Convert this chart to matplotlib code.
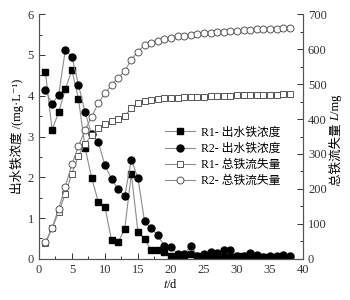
import numpy as np
import matplotlib
matplotlib.use('Agg')
import matplotlib.pyplot as plt
from matplotlib.ticker import MultipleLocator

fonts = ['Liberation Serif', 'Noto Sans CJK SC', 'DejaVu Sans']
plt.rcParams['font.family'] = fonts
plt.rcParams['mathtext.fontset'] = 'stix'

days = np.arange(1, 39)
# 出水铁浓度 mg/L
r1_conc = [4.57, 3.17, 3.59, 4.16, 4.63, 3.92, 2.72, 1.98, 1.40, 1.28,
           0.46, 0.41, 0.73, 2.09, 0.67, 0.48, 0.21, 0.21, 0.16, 0.07,
           0.07, 0.10, 0.11, 0.07, 0.05, 0.04, 0.09, 0.04, 0.04, 0.07,
           0.06, 0.09, 0.06, 0.04, 0.04, 0.05, 0.06, 0.02]
r2_conc = [4.13, 3.80, 4.02, 5.11, 4.95, 4.27, 3.59, 3.05, 2.87, 2.29,
           1.96, 1.71, 1.54, 2.43, 1.98, 0.92, 0.75, 0.58, 0.31, 0.29,
           0.13, 0.11, 0.31, 0.08, 0.12, 0.18, 0.14, 0.23, 0.23, 0.07,
           0.08, 0.14, 0.10, 0.05, 0.06, 0.07, 0.09, 0.06]
# 总铁流失量 mg
r1_loss = [45, 87, 134, 186, 244, 295, 329, 354, 374, 385,
           393, 400, 408, 432, 446, 451, 455, 457, 459, 460,
           461, 462, 463, 464, 464, 465, 466, 467, 467, 468,
           468, 469, 469, 470, 470, 470, 471, 471]
r2_loss = [47, 89, 143, 207, 270, 323, 368, 407, 445, 473,
           497, 518, 537, 570, 593, 611, 617, 623, 628, 633,
           636, 638, 641, 643, 645, 647, 648, 650, 652, 653,
           654, 655, 656, 657, 657, 658, 659, 659]

fig = plt.figure(figsize=(3.5, 3.0), dpi=100)
ax = fig.add_axes([0.111, 0.137, 0.755, 0.816])
ax2 = ax.twinx()

lc = '#8c8c8c'
l1, = ax.plot(days, r1_conc, '-s', color=lc, lw=0.8, ms=4.5,
              mfc='black', mec='black', label='R1- 出水铁浓度')
l2, = ax.plot(days, r2_conc, '-o', color=lc, lw=0.8, ms=5,
              mfc='black', mec='black', label='R2- 出水铁浓度')
l3, = ax2.plot(days, r1_loss, '-s', color=lc, lw=0.8, ms=4.5,
               mfc='white', mec='#555555', mew=0.7, label='R1- 总铁流失量')
l4, = ax2.plot(days, r2_loss, '-o', color=lc, lw=0.8, ms=5,
               mfc='white', mec='#555555', mew=0.7, label='R2- 总铁流失量')

ax.set_xlim(0, 40)
ax.set_ylim(0, 6)
ax2.set_ylim(0, 700)
ax.xaxis.set_major_locator(MultipleLocator(5))
ax.xaxis.set_minor_locator(MultipleLocator(2.5))
ax.yaxis.set_major_locator(MultipleLocator(1))
ax.yaxis.set_minor_locator(MultipleLocator(0.5))
ax2.yaxis.set_major_locator(MultipleLocator(100))
ax2.yaxis.set_minor_locator(MultipleLocator(50))

for a in (ax, ax2):
    a.spines['top'].set_visible(False)
    for s in a.spines.values():
        s.set_color('#555555')
        s.set_linewidth(0.8)
    a.tick_params(which='both', direction='in', colors='#333333', labelsize=9,
                  width=0.7)
    a.tick_params(which='major', length=4)
    a.tick_params(which='minor', length=2.5)
ax.tick_params(axis='x', pad=4)

ax.set_xlabel('$t$/d', fontsize=9, labelpad=1)
ax.set_ylabel('出水铁浓度 /(mg·L⁻¹)', fontsize=9, labelpad=3)

# right label: CJK part, italic L, then /mg
rl = ax2.text(1.125, 0.43, '总铁流失量 ', transform=ax2.transAxes,
              rotation=90, ha='center', va='center', fontsize=9)
lt = ax2.annotate('L', xy=(0.5, 1), xycoords=rl, rotation=90,
                  ha='center', va='bottom', fontsize=9, style='italic')
ax2.annotate('/mg', xy=(0.5, 1), xycoords=lt, rotation=90,
             ha='center', va='bottom', fontsize=9)

ax2.legend(handles=[l1, l2, l3, l4], loc='upper left',
           bbox_to_anchor=(0.46, 0.56), frameon=False, fontsize=8.5,
           handlelength=2.5, handletextpad=0.5, labelspacing=0.35,
           borderaxespad=0)

fig.savefig('out.png', dpi=100)
